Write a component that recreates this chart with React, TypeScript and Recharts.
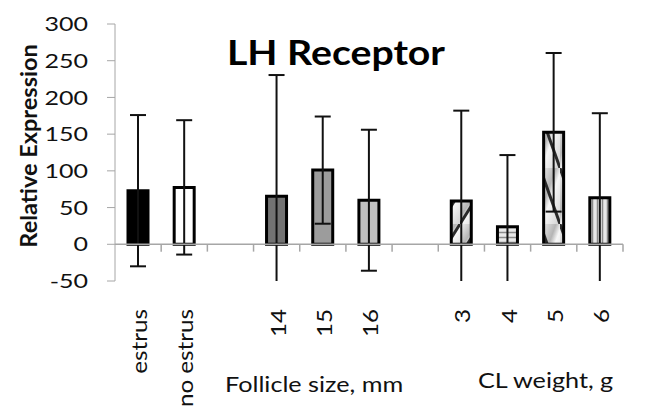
import React from 'react';
import { BarChart, Bar, XAxis, YAxis, Cell, ReferenceLine } from 'recharts';

// categories (blank ones are the gaps between groups)
const categories = ['estrus', 'no estrus', ' ', '14', '15', '16', '  ', '3', '4', '5', '6'];
const expression = [73, 77.5, null, 65.5, 101, 60, null, 59, 24, 152.5, 63.5];
const stdError = [103, 91.5, null, 165, 73, 96, null, 123, 97.5, 108, 115];
const yTicks = [-50, 0, 50, 100, 150, 200, 250, 300];

const data = categories.map((name, i) => ({
  name,
  value: expression[i],
  err: stdError[i],
}));

const fills = [
  '#000000',
  '#ffffff',
  'none',
  '#727272',
  '#9c9c9c',
  '#c0c0c0',
  'none',
  'url(#diagUp)',
  'url(#horiz)',
  'url(#diagDown)',
  'url(#vert)',
];

const font = 'Lato, "Open Sans", sans-serif';
const axisGray = '#a6a6a6';

// whisker range, clipped by the plot area like the original
const errRange = (d: any) => (d.value == null ? null : [d.value - d.err, d.value + d.err]);

const CatTick = (props: any) => {
  const { x, y, payload } = props;
  return (
    <g transform={`translate(${x + 9}, ${y + 20}) rotate(-90) scale(1.1, 1)`}>
      <text x={0} y={0} textAnchor="end" fontSize={22} fontFamily={font} fill="#111">
        {payload.value.trim()}
      </text>
    </g>
  );
};

const ValueTick = (props: any) => {
  const { x, y, payload } = props;
  return (
    <g transform={`translate(${x}, ${y}) scale(1.25, 1)`}>
      <text x={0} y={0} dy="0.36em" textAnchor="end" fontSize={20} fontFamily={font} fill="#111">
        {payload.value}
      </text>
    </g>
  );
};

const Whisker = (props: any) => {
  const { x, y, width, height } = props;
  if (x == null || y == null) return null;
  const cx = x + width / 2;
  const top = Math.min(y, y + height);
  const bottom = Math.max(y, y + height);
  return (
    <g stroke="#111" strokeWidth={2}>
      <line x1={cx} y1={top} x2={cx} y2={bottom} />
      <line x1={cx - 8} y1={top} x2={cx + 8} y2={top} />
      <line x1={cx - 8} y1={bottom} x2={cx + 8} y2={bottom} />
    </g>
  );
};

const App: React.FC = () => {
  return (
    <div style={{ position: 'relative', width: 648, height: 420, margin: '-8px 0 0 -8px', background: '#fff', overflow: 'hidden' }}>
      <div style={{ position: 'absolute', left: 3, top: 5, width: 700, height: 412, borderLeft: '4px solid #000', borderTop: '3px solid #000', borderBottom: '1px solid #ddd' }} />
      <BarChart
        width={648}
        height={420}
        data={data}
        margin={{ top: 24, right: 25, bottom: 109, left: 0 }}
        barSize={20}
        style={{ position: 'absolute', left: 0, top: 0 }}
      >
        <defs>
          <linearGradient id="sheen" x1="0" y1="0" x2="1" y2="1">
            <stop offset="0%" stopColor="#f4f4f4" />
            <stop offset="40%" stopColor="#b5b5b5" />
            <stop offset="55%" stopColor="#f7f7f7" />
            <stop offset="100%" stopColor="#d0d0d0" />
          </linearGradient>
          <pattern id="diagUp" patternUnits="userSpaceOnUse" width="20" height="32">
            <rect width="20" height="32" fill="url(#sheen)" />
            <line x1="0" y1="32" x2="20" y2="0" stroke="#2a2a2a" strokeWidth="3" />
          </pattern>
          <pattern id="diagDown" patternUnits="userSpaceOnUse" width="20" height="56">
            <rect width="20" height="56" fill="url(#sheen)" />
            <line x1="0" y1="0" x2="20" y2="56" stroke="#2a2a2a" strokeWidth="3" />
          </pattern>
          <pattern id="horiz" patternUnits="userSpaceOnUse" width="20" height="5">
            <rect width="20" height="5" fill="#e8e8e8" />
            <line x1="0" y1="2.5" x2="20" y2="2.5" stroke="#8a8a8a" strokeWidth="1.5" />
          </pattern>
          <pattern id="vert" patternUnits="userSpaceOnUse" width="5" height="20">
            <rect width="5" height="20" fill="#e8e8e8" />
            <line x1="2.5" y1="0" x2="2.5" y2="20" stroke="#8a8a8a" strokeWidth="1.5" />
          </pattern>
        </defs>
        <XAxis dataKey="name" height={30} axisLine={false} tickLine={false} tick={<CatTick />} interval={0} />
        <XAxis xAxisId="err" dataKey="name" height={0} hide />
        <YAxis
          width={115}
          domain={[-50, 300]}
          ticks={yTicks}
          allowDataOverflow
          stroke={axisGray}
          tickSize={8}
          tickMargin={19}
          tick={<ValueTick />}
        />
        <ReferenceLine y={0} stroke={axisGray} strokeWidth={1.5} />
        {categories.slice(1).map((c) => (
          <ReferenceLine
            key={'t' + c}
            segment={[{ x: c, y: 0 }, { x: c, y: -10 }]}
            position="start"
            stroke={axisGray}
            strokeWidth={1.5}
          />
        ))}
        <ReferenceLine
          segment={[{ x: '6', y: 0 }, { x: '6', y: -10 }]}
          position="end"
          stroke={axisGray}
          strokeWidth={1.5}
        />
        <Bar dataKey="value" stroke="#000" strokeWidth={3} isAnimationActive={false}>
          {data.map((d, i) => (
            <Cell key={d.name + i} fill={fills[i]} />
          ))}
        </Bar>
        <Bar xAxisId="err" dataKey={errRange} shape={<Whisker />} isAnimationActive={false} />
      </BarChart>
      <div
        style={{
          position: 'absolute',
          left: 227,
          top: 30,
          fontFamily: font,
          fontWeight: 700,
          fontSize: 35,
          color: '#000',
          whiteSpace: 'nowrap',
          transform: 'scaleX(1.12)',
          transformOrigin: 'left top',
        }}
      >
        LH Receptor
      </div>
      <div
        style={{
          position: 'absolute',
          left: 28,
          top: 146,
          transform: 'translate(-50%, -50%) rotate(-90deg)',
          fontFamily: font,
          fontWeight: 700,
          fontSize: 23.5,
          whiteSpace: 'nowrap',
          color: '#111',
        }}
      >
        Relative Expression
      </div>
      <div style={{ position: 'absolute', left: 225, top: 371, fontFamily: font, fontSize: 21, whiteSpace: 'nowrap', color: '#111', transform: 'scaleX(1.2)', transformOrigin: 'left top' }}>
        Follicle size, mm
      </div>
      <div style={{ position: 'absolute', left: 478, top: 367, fontFamily: font, fontSize: 21, whiteSpace: 'nowrap', color: '#111', transform: 'scaleX(1.2)', transformOrigin: 'left top' }}>
        CL weight, g
      </div>
    </div>
  );
};

export default App;
